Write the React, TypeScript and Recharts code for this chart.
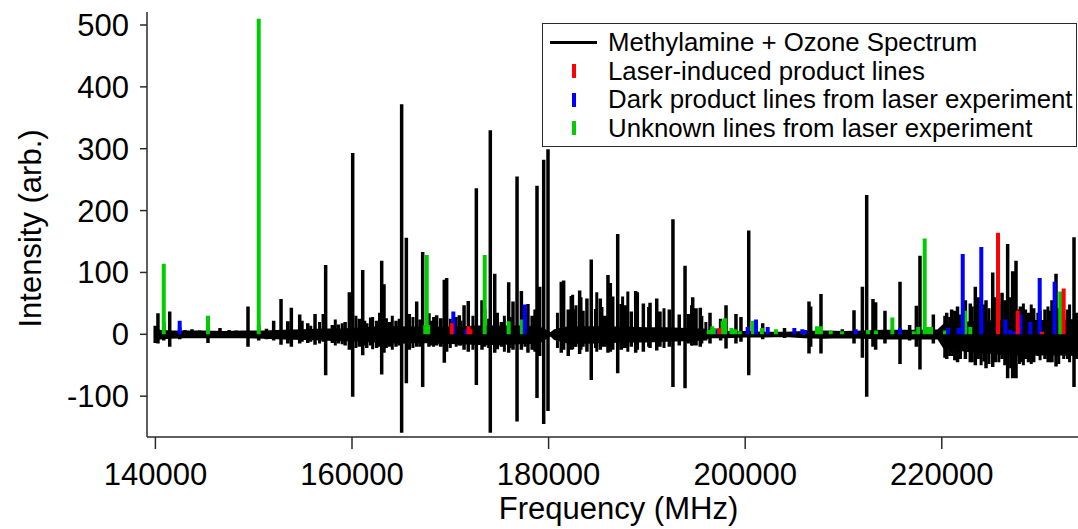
import React from "react";
import { ComposedChart, Line, Area, XAxis, YAxis } from "recharts";

const FONT = "'Liberation Sans', Arial, Helvetica, sans-serif";
const RED = "#ff0000";
const BLUE = "#0000ff";
const GREEN = "#00cc00";
const AXIS = "#2a2a2a";

// strong lines of the methylamine + ozone spectrum (MHz, positive lobe, negative lobe)
const PEAK_FREQ = [
  139980, 140260, 140850, 141455, 142470, 143000, 143720, 144500, 145350, 146570,
  147500, 148200, 149420, 150510, 151300, 152030, 152780, 153460, 153830, 154680,
  154910, 155500, 156240, 157080, 157320, 158000, 158610, 159300, 159730, 160070,
  160740, 161090, 161500, 161900, 162500, 163020, 163255, 163800, 164480, 165050,
  165530, 165830, 166580, 167190, 167830, 168610, 169020, 169390, 169630, 170920,
  171400, 171830, 172650, 173225, 173500, 174070, 174520, 175190, 175940, 176380,
  176790, 177230, 177900, 178820, 179090, 179500, 179940, 181290, 181530, 182000,
  182310, 182650, 183160, 183500, 183900, 184340, 184790, 185260, 185710, 186040,
  186280, 187030, 187400, 187840, 188410, 188860, 189640, 190320, 191000, 191330,
  192280, 192650, 193290, 193880, 194250, 194660, 195000, 195430, 196420, 197500,
  198050, 199060, 199570, 200360, 201780, 204000, 206490, 206660, 207710, 209880,
  211070, 211920, 212360, 213000, 213270, 214220, 215750, 216730, 217410, 217780,
  219140, 220500, 221000, 221600, 222400, 222900, 223410, 223700, 224300, 224500,
  225180, 225440, 226130, 226700, 227210, 227550, 228000, 228500, 229350, 229800,
  230500, 231210, 231620, 232800, 233450,
];
const PEAK_TOP = [
  14, 34, 20, 37, 12, 7, 8, 6, 20, 10,
  7, 6, 45, 15, 9, 22, 57, 21, 43, 32,
  22, 18, 33, 33, 112, 15, 16, 20, 68, 293,
  25, 104, 18, 27, 22, 119, 81, 20, 22, 372,
  156, 33, 53, 133, 34, 31, 26, 88, 91, 31,
  47, 54, 236, 55, 40, 330, 98, 20, 84, 53,
  255, 70, 49, 240, 77, 282, 299, 85, 87, 40,
  62, 41, 71, 38, 58, 121, 41, 58, 30, 96,
  83, 162, 49, 47, 37, 70, 50, 51, 58, 37,
  40, 186, 32, 111, 33, 60, 42, 43, 35, 25,
  47, 33, 28, 168, 18, 10, 53, 45, 65, 8,
  39, 77, 225, 57, 52, 38, 85, 15, 46, 127,
  32, 35, 40, 45, 55, 50, 77, 60, 48, 55,
  100, 60, 67, 146, 102, 119, 45, 40, 42, 35,
  40, 55, 98, 40, 157,
];
const PEAK_BOTTOM = [
  -14, -15, -10, -20, -8, -6, -6, -5, -14, -6,
  -6, -6, -20, -10, -8, -10, -17, -15, -20, -15,
  -12, -14, -17, -12, -66, -14, -15, -18, -25, -101,
  -20, -34, -22, -18, -22, -65, -30, -20, -20, -159,
  -79, -25, -20, -85, -20, -18, -20, -46, -28, -18,
  -25, -28, -82, -25, -20, -159, -30, -20, -30, -25,
  -141, -25, -30, -103, -35, -145, -124, -30, -25, -35,
  -25, -20, -32, -20, -28, -74, -22, -25, -20, -30,
  -28, -63, -25, -22, -20, -30, -28, -22, -26, -20,
  -20, -85, -18, -87, -15, -18, -18, -20, -15, -10,
  -23, -15, -12, -66, -8, -6, -31, -20, -31, -6,
  -15, -38, -101, -20, -25, -15, -48, -10, -20, -57,
  -15, -40, -35, -45, -40, -45, -50, -40, -44, -55,
  -53, -45, -40, -71, -71, -71, -45, -40, -45, -35,
  -40, -45, -52, -40, -85,
];

// weaker lines that make up the ragged floor
const MINOR_FREQ = [
  155800, 156700, 158300, 159000, 160400, 161300, 162100, 162800, 163500, 164100,
  164800, 166200, 166900, 168000, 168300, 170000, 170600, 171100, 172300, 173900,
  174800, 175500, 176100, 177600, 178300, 178600, 180900, 182450, 182790, 183300,
  184900, 185430, 186550, 187530, 188060, 189050, 190170, 191740, 194540, 195590,
  196000, 220300, 220800, 221300, 221900, 223100, 224000, 224800, 225800, 226400,
  227000, 227900, 228300, 228800, 229100, 230000, 230800, 231000, 231900, 232400,
  233000, 233700,
];
const MINOR_TOP = [
  14, 20, 24, 18, 30, 22, 28, 35, 26, 30,
  25, 28, 24, 22, 28, 25, 28, 22, 30, 25,
  35, 30, 28, 34, 30, 40, 35, 64, 47, 60,
  68, 44, 61, 61, 69, 68, 44, 42, 47, 30,
  20, 30, 28, 38, 32, 45, 40, 42, 50, 55,
  60, 40, 50, 35, 48, 38, 45, 38, 42, 35,
  48, 35,
];
const MINOR_BOTTOM = [
  -12, -15, -18, -16, -22, -18, -24, -20, -22, -25,
  -18, -22, -20, -18, -20, -22, -20, -18, -25, -22,
  -24, -28, -22, -20, -25, -28, -22, -24, -20, -25,
  -28, -20, -25, -22, -28, -25, -20, -22, -18, -15,
  -10, -38, -35, -42, -40, -45, -50, -48, -45, -50,
  -55, -48, -50, -45, -48, -42, -45, -45, -48, -40,
  -45, -40,
];

// noise floor of the spectrum
const NOISE_FREQ = [
  139950, 140500, 141500, 143000, 145000, 147000, 149000, 151000, 153000, 155000,
  157000, 159000, 161000, 163000, 165000, 167000, 169000, 171000, 173000, 175000,
  177000, 179000, 179800, 180200, 180600, 182000, 184000, 186000, 188000, 190000,
  192000, 194000, 195800, 196400, 198000, 200000, 202000, 204000, 206000, 208000,
  210000, 212000, 214000, 216000, 218000, 219600, 220200, 221500, 223000, 224500,
  226000, 227500, 229000, 230500, 232000, 234000,
];
const NOISE_HI = [
  8, 6, 5, 5, 5, 4, 5, 5, 6, 7,
  8, 8, 10, 12, 12, 11, 11, 12, 13, 13,
  13, 12, 6, 2, 7, 12, 12, 12, 11, 10,
  10, 9, 8, 5, 4, 4, 3, 3, 4, 5,
  4, 5, 6, 6, 6, 7, 16, 18, 20, 21,
  22, 22, 22, 22, 22, 24,
];
const NOISE_LO = [
  -8, -7, -6, -5, -5, -5, -5, -6, -7, -8,
  -9, -10, -11, -13, -14, -13, -14, -15, -16, -16,
  -15, -14, -6, -2, -8, -14, -14, -13, -12, -12,
  -11, -10, -9, -5, -5, -4, -4, -3, -5, -6,
  -5, -6, -7, -7, -7, -7, -22, -25, -28, -30,
  -32, -33, -33, -33, -33, -34,
];

const RED_FREQ = [170140, 171850, 172050, 197350, 225720, 227720, 230200, 232400];
const RED_INT = [18, 13, 8, 10, 164, 38, 4, 74];

const BLUE_FREQ = [
  142470, 170310, 171650, 177570, 197200, 200250, 201100, 202290, 205000, 205810,
  206080, 211240, 215750, 220630, 221700, 222130, 224020, 226470, 226970, 227410,
  228000, 229010, 229960, 231480,
];
const BLUE_INT = [
  22, 37, 8, 48, 8, 12, 24, 12, 10, 8,
  7, 8, 10, 10, 10, 130, 141, 24, 7, 4,
  32, 20, 91, 85,
];

const GREEN_FREQ = [
  140850, 145350, 150510, 167450, 167600, 167750, 173500, 175940, 177300, 196300,
  196650, 196900, 197700, 197950, 198600, 199000, 199450, 200800, 201700, 203130,
  205950, 207300, 207500, 207700, 208700, 209850, 212500, 213300, 214970, 217150,
  217600, 218260, 218600, 218900, 220330, 222390, 222900, 232050,
];
const GREEN_INT = [
  114, 30, 510, 15, 128, 15, 128, 21, 24, 7,
  13, 10, 22, 26, 10, 8, 5, 22, 10, 8,
  7, 13, 13, 13, 6, 5, 7, 6, 27, 5,
  12, 155, 12, 12, 6, 38, 12, 69,
];

const X_TICKS = [140000, 160000, 180000, 200000, 220000];
const Y_TICKS = [-100, 0, 100, 200, 300, 400, 500];
const X_DOMAIN = [139145, 234060];
const Y_DOMAIN = [-166, 521];

type Row = { f: number; v: number | null };

// each line is a vertical stick; a null row breaks the path between sticks
function sticks(freq: number[], top: number[], bottom?: number[]): Row[] {
  const rows: Row[] = [];
  freq.forEach((f, i) => {
    rows.push({ f, v: bottom ? bottom[i] : 0 });
    rows.push({ f, v: top[i] });
    rows.push({ f, v: null });
  });
  return rows;
}

const BLACK_ROWS = sticks(PEAK_FREQ, PEAK_TOP, PEAK_BOTTOM);
const MINOR_ROWS = sticks(MINOR_FREQ, MINOR_TOP, MINOR_BOTTOM);
const RED_ROWS = sticks(RED_FREQ, RED_INT);
const BLUE_ROWS = sticks(BLUE_FREQ, BLUE_INT);
const GREEN_ROWS = sticks(GREEN_FREQ, GREEN_INT);
const NOISE_ROWS = NOISE_FREQ.map((f, i) => ({ f, band: [NOISE_LO[i], NOISE_HI[i]] }));

const LEGEND = [
  { label: "Methylamine + Ozone Spectrum", color: "#000", kind: "line" },
  { label: "Laser-induced product lines", color: RED, kind: "tick" },
  { label: "Dark product lines from laser experiment", color: BLUE, kind: "tick" },
  { label: "Unknown lines from laser experiment", color: GREEN, kind: "tick" },
];

function XTitle(props: any) {
  const vb = props.viewBox;
  return (
    <text
      x={vb.x + vb.width / 2 + 5}
      y={vb.y + 82}
      textAnchor="middle"
      fontFamily={FONT}
      fontSize={31}
      fill="#000"
    >
      Frequency (MHz)
    </text>
  );
}

function YTitle(props: any) {
  const vb = props.viewBox;
  const cx = vb.x + 30;
  const cy = vb.y + vb.height / 2 + 4;
  return (
    <text
      x={cx}
      y={cy}
      transform={`rotate(-90 ${cx} ${cy})`}
      textAnchor="middle"
      dominantBaseline="central"
      fontFamily={FONT}
      fontSize={31}
      fill="#000"
    >
      Intensity (arb.)
    </text>
  );
}

function LegendBox() {
  return (
    <div
      style={{
        position: "absolute",
        left: 542,
        top: 23,
        width: 535,
        height: 124,
        boxSizing: "border-box",
        border: `1.5px solid ${AXIS}`,
        background: "#fff",
        paddingTop: 4,
        fontFamily: FONT,
        fontSize: 25.8,
        color: "#000",
        overflow: "hidden",
      }}
    >
      {LEGEND.map((item) => (
        <div key={item.label} style={{ display: "flex", alignItems: "center", height: 28.5 }}>
          <div style={{ width: 65, flex: "none", position: "relative", height: 28.5 }}>
            {item.kind === "line" ? (
              <span
                style={{
                  position: "absolute",
                  left: 7,
                  top: 12.5,
                  width: 47,
                  height: 3.5,
                  background: item.color,
                }}
              />
            ) : (
              <span
                style={{
                  position: "absolute",
                  left: 29,
                  top: 7.5,
                  width: 3.5,
                  height: 14,
                  background: item.color,
                }}
              />
            )}
          </div>
          <span style={{ whiteSpace: "nowrap", lineHeight: "28.5px" }}>{item.label}</span>
        </div>
      ))}
    </div>
  );
}

export default function App() {
  const tickStyle = { fontFamily: FONT, fontSize: 31, fill: "#000" };
  const stickProps = {
    dataKey: "v",
    type: "linear" as const,
    dot: false,
    activeDot: false,
    connectNulls: false,
    isAnimationActive: false,
  };
  return (
    <div
      style={{
        position: "absolute",
        left: 0,
        top: 0,
        width: 1078,
        height: 529,
        overflow: "hidden",
        background: "#fff",
      }}
    >
      <ComposedChart width={1082} height={529} margin={{ top: 12, right: 2, bottom: 0, left: 0 }}>
        <XAxis
          xAxisId="top"
          orientation="top"
          type="number"
          dataKey="f"
          domain={X_DOMAIN}
          allowDataOverflow
          height={0}
          tick={false}
          tickLine={false}
          axisLine={{ stroke: AXIS, strokeWidth: 1.5 }}
        />
        <XAxis
          type="number"
          dataKey="f"
          domain={X_DOMAIN}
          allowDataOverflow
          ticks={X_TICKS}
          height={92}
          tickSize={12}
          tickMargin={14}
          tick={tickStyle}
          tickLine={{ stroke: AXIS, strokeWidth: 1.5 }}
          axisLine={{ stroke: AXIS, strokeWidth: 1.5 }}
          label={(p: any) => <XTitle {...p} />}
        />
        <YAxis
          type="number"
          domain={Y_DOMAIN}
          allowDataOverflow
          ticks={Y_TICKS}
          width={147}
          tickSize={7}
          tickMargin={11}
          tick={tickStyle}
          tickLine={{ stroke: AXIS, strokeWidth: 1.5 }}
          axisLine={{ stroke: AXIS, strokeWidth: 1.5 }}
          label={(p: any) => <YTitle {...p} />}
        />
        <Area
          data={NOISE_ROWS}
          dataKey="band"
          type="linear"
          stroke="#000"
          strokeWidth={1.5}
          fill="#000"
          fillOpacity={1}
          dot={false}
          activeDot={false}
          isAnimationActive={false}
        />
        <Line {...stickProps} data={MINOR_ROWS} stroke="#000" strokeWidth={3} />
        <Line {...stickProps} data={BLACK_ROWS} stroke="#000" strokeWidth={3.5} />
        <Line {...stickProps} data={GREEN_ROWS} stroke={GREEN} strokeWidth={4} />
        <Line {...stickProps} data={BLUE_ROWS} stroke={BLUE} strokeWidth={4} />
        <Line {...stickProps} data={RED_ROWS} stroke={RED} strokeWidth={4} />
      </ComposedChart>
      <LegendBox />
    </div>
  );
}
